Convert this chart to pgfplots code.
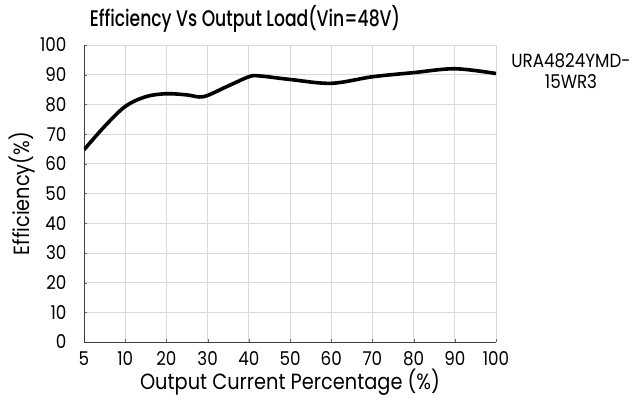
\documentclass[border=0pt]{standalone}
\usepackage{pgfplots}
\pgfplotsset{compat=1.18}
\usepackage{fontspec}
\setmainfont{Poppins}[FakeStretch=0.88]
\newfontfamily\titlefont{Poppins Medium}[FakeStretch=0.76]
\begin{document}
\begin{tikzpicture}[x=1pt,y=1pt]
\path[use as bounding box] (0,0) rectangle (640,405);
\begin{axis}[
  at={(84pt,63pt)}, anchor=south west,
  scale only axis, width=412pt, height=297pt,
  xmin=0, xmax=10, ymin=0, ymax=100,
  xtick={0,...,10}, xticklabels={5,10,20,30,40,50,60,70,80,90,100},
  ytick={0,10,...,100},
  axis lines=left,
  axis line style={draw=black!75, line width=0.8pt, -},
  grid=major, major grid style={draw=black!15, line width=0.8pt},
  tick style={draw=black!60},
  major tick length=3pt,
  tick align=inside,
  /pgf/number format/assume math mode=true,
  ticklabel style={font=\fontsize{19}{21}\selectfont},
  xticklabel style={yshift=-6pt},
  yticklabel style={xshift=-14pt},
  xlabel={Output Current Percentage (\%)},
  ylabel={Efficiency(\%)},
  label style={font=\fontsize{22}{24}\selectfont},
  xlabel style={yshift=4pt},
  ylabel style={yshift=-2pt},
]
\addplot[black, line width=3.6pt, smooth, tension=0.55] coordinates {
(0,64.7) (0.5,72.6) (1,79.3) (1.5,82.6) (2,83.6) (2.5,83.2) (2.9,82.6) (3.45,85.9) (4,89.3) (4.25,89.6) (5,88.4) (6,87.1) (7,89.3) (8,90.7) (9,92.0) (10,90.4)
};
\end{axis}
\node[font=\titlefont\fontsize{22.6}{24}\selectfont] at (245,386) {Efficiency Vs Output Load(Vin=48V)};
\node[font=\fontsize{19}{21}\selectfont, align=center] at (571,334) {URA4824YMD-\\15WR3};
\end{tikzpicture}
\end{document}
